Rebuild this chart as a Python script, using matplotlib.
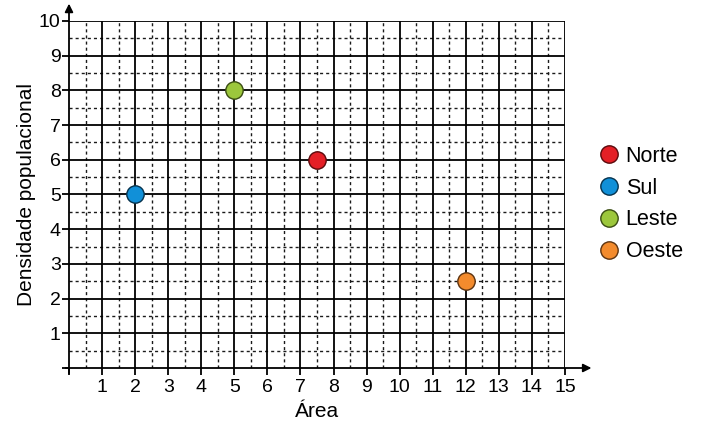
import matplotlib.pyplot as plt
import numpy as np

plt.rcParams['font.family'] = ['Liberation Sans', 'DejaVu Sans']

regioes = ["Norte", "Sul", "Leste", "Oeste"]
area = [7.5, 2, 5, 12]
densidade = [6, 5, 8, 2.5]
cores = ["#e41f26", "#1190d8", "#9cc73c", "#f38b2d"]
bordas = ["#5a0a0c", "#06324d", "#3a4d12", "#5c3310"]

x_ticks = list(range(0, 16))
y_ticks = list(range(0, 11))

fig = plt.figure(figsize=(7.01, 4.25), dpi=100)
ax = fig.add_axes([69/701, 1 - 368/425, (565 - 69)/701, (368 - 21)/425])

ax.set_xlim(0, 15)
ax.set_ylim(0, 10)

# grade pontilhada (meias unidades)
for v in np.arange(0.5, 15, 1.0):
    ax.axvline(v, color="#1a1a1a", lw=1.0, ls=(0, (2.2, 2.2)), zorder=1)
for v in np.arange(0.5, 10, 1.0):
    ax.axhline(v, color="#1a1a1a", lw=1.0, ls=(0, (2.2, 2.2)), zorder=1)
# grade principal
for v in x_ticks[1:]:
    ax.axvline(v, color="black", lw=1.3, zorder=2)
for v in y_ticks[1:]:
    ax.axhline(v, color="black", lw=1.3, zorder=2)

for spine in ax.spines.values():
    spine.set_visible(False)

# eixos com setas
ax.annotate("", xy=(15.8, 0), xytext=(-0.1, 0), xycoords="data",
            arrowprops=dict(arrowstyle="-|>", color="black", lw=1.3,
                            mutation_scale=12, shrinkA=0, shrinkB=0),
            annotation_clip=False, zorder=3)
ax.annotate("", xy=(0, 10.5), xytext=(0, -0.15), xycoords="data",
            arrowprops=dict(arrowstyle="-|>", color="black", lw=1.3,
                            mutation_scale=12, shrinkA=0, shrinkB=0),
            annotation_clip=False, zorder=3)

ax.set_xticks(x_ticks)
ax.set_xticklabels([""] + [str(t) for t in x_ticks[1:]])
ax.set_yticks(y_ticks)
ax.set_yticklabels([""] + [str(t) for t in y_ticks[1:]])
ax.tick_params(axis="both", direction="out", length=5, width=1.3,
               labelsize=14)
ax.tick_params(axis="y", pad=1)
ax.tick_params(axis="x", pad=3)

for r, xa, yd, c, b in zip(regioes, area, densidade, cores, bordas):
    ax.plot(xa, yd, "o", ms=12.5, mfc=c, mec=b, mew=1.0, label=r,
            zorder=5, clip_on=False)

ax.set_xlabel("Área", fontsize=15, labelpad=4)
ax.set_ylabel("Densidade populacional", fontsize=15, labelpad=2)

ax.legend(loc="center left", bbox_to_anchor=(589/701, 1 - 204/425),
          bbox_transform=fig.transFigure, frameon=False, fontsize=15.5,
          handletextpad=0.2, labelspacing=0.5, handlelength=1.1,
          borderaxespad=0)

fig.savefig("out.png", dpi=100)
